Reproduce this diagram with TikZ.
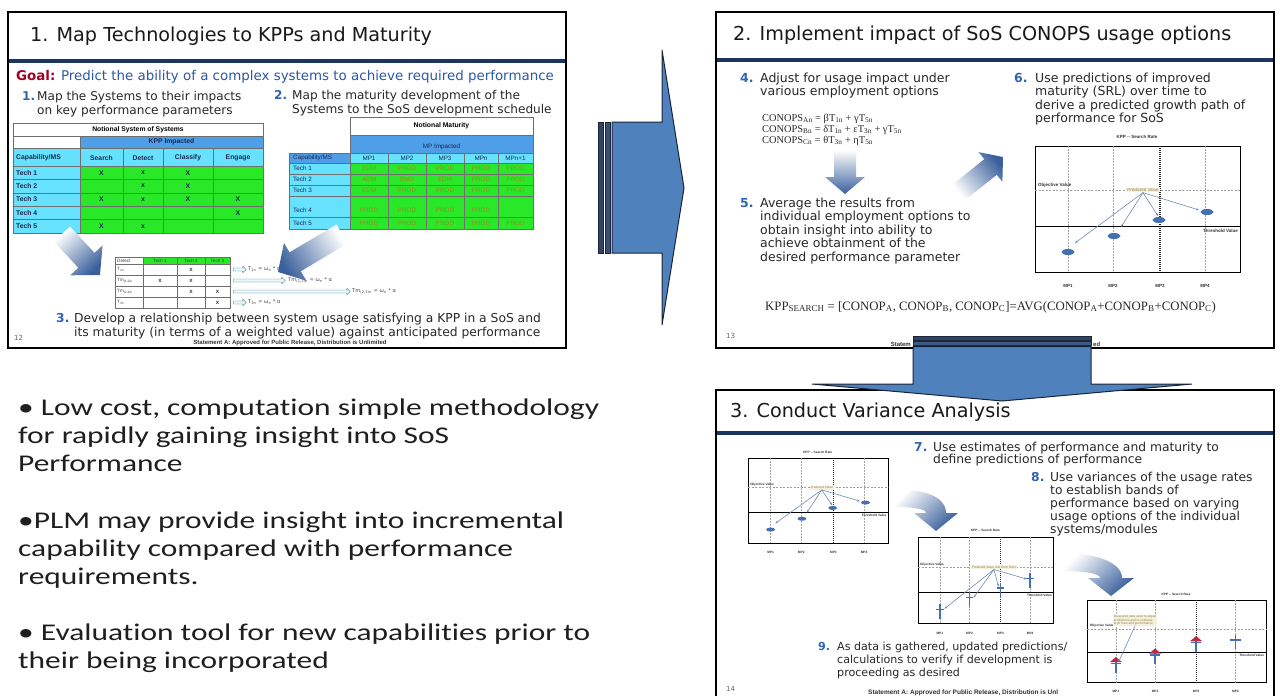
\documentclass[tikz,border=0pt]{standalone}
\usepackage{fontspec}
\setmainfont{DejaVu Sans}
\newfontfamily\bulf[FakeStretch=1.31,Ligatures=NoCommon]{Carlito}
\newfontfamily\tmsf{Liberation Serif}
\newfontfamily\arf{Liberation Sans}
\usetikzlibrary{shapes.arrows,arrows.meta}
\newcommand{\fsz}[1]{\fontsize{#1}{#1}\selectfont}
\definecolor{navy}{RGB}{28,52,98}
\definecolor{numblue}{RGB}{46,100,178}
\definecolor{goalred}{RGB}{158,0,40}
\definecolor{goalblue}{RGB}{44,88,168}
\definecolor{txt}{RGB}{40,40,40}
\definecolor{arrowblue}{RGB}{79,129,189}
\definecolor{arrowedge}{RGB}{28,36,56}
\definecolor{stripe}{RGB}{50,66,98}
\definecolor{tgreen}{RGB}{40,232,40}
\definecolor{tcyan}{RGB}{102,226,255}
\definecolor{tblue}{RGB}{78,158,232}
\definecolor{tdark}{RGB}{28,40,80}
\definecolor{tdata}{RGB}{150,140,30}
\definecolor{gridc}{RGB}{110,110,110}
\definecolor{gradblue}{RGB}{58,96,156}
\definecolor{dotblue}{RGB}{66,112,176}
\definecolor{beige}{RGB}{244,240,222}
\definecolor{predtxt}{RGB}{150,130,80}
\definecolor{lineblue}{RGB}{110,140,180}
\definecolor{errred}{RGB}{190,40,70}
\newcommand{\emp}{}
\newcommand{\tmA}{Tm\textsubscript{(1,2)n}}
\newcommand{\tmB}{Tm\textsubscript{(2,3)n}}
\newcommand{\para}[6]{\foreach \pline [count=\pk from 0] in {#6} {\node[#2] (#1-\pk) at (#3,{#4+\pk*#5}) {\pline};}}
\newcommand{\bx}[5]{\filldraw[fill=#5, draw=gridc, line width=0.5] (#1,#2) rectangle (#3,#4);}
\newcommand{\fatarrow}[7]{%
 \pgfmathsetmacro{\fdx}{#3-#1}\pgfmathsetmacro{\fdy}{#4-#2}%
 \pgfmathsetmacro{\fL}{veclen(\fdx,\fdy)}%
 \pgfmathsetmacro{\fux}{\fdx/\fL}\pgfmathsetmacro{\fuy}{\fdy/\fL}%
 \pgfmathsetmacro{\fang}{atan2(\fdy,-\fdx)-90}%
 \pgfmathsetmacro{\fbx}{#3-#7*\fux}\pgfmathsetmacro{\fby}{#4-#7*\fuy}%
 \shade[top color=white, bottom color=gradblue, shading angle=\fang]
  ({#1+#5*\fuy},{#2-#5*\fux}) -- ({\fbx+#5*\fuy},{\fby-#5*\fux}) -- ({\fbx+#6*\fuy},{\fby-#6*\fux}) -- (#3,#4) -- ({\fbx-#6*\fuy},{\fby+#6*\fux}) -- ({\fbx-#5*\fuy},{\fby+#5*\fux}) -- ({#1-#5*\fuy},{#2+#5*\fux}) -- cycle;}
\newcommand{\chartbase}[4]{%
 \filldraw[fill=white, draw=black, line width=0.9] (0,0) rectangle (205,126);
 \foreach \gx in {33,78,170} {\draw[gray!70, dash pattern=on 1.5pt off 1.5pt, line width=0.4] (\gx,0) -- (\gx,126);}
 \draw[black!85, dash pattern=on 1pt off 1pt, line width=1.1] (125,0) -- (125,126);
 \draw[gray!75, dash pattern=on 2pt off 1.5pt, line width=0.5] (0,44) -- (205,44);
 \draw[black, line width=0.7] (0,80) -- (205,80);
 \node[chtxt={#1}] (#3-t) at (102,-9) {KPP -- Search Rate};
 \node[chtxt={#1}, anchor=south west] (#3-o) at (3,42) {Objective Value};
 \node[chtxt={#1}, anchor=north east] (#3-th) at (203,83) {Threshold Value};
 \node[font=\arf\fsz{#1}, fill=beige, text=predtxt, inner sep=0.8, align=left] (#3-p) at (#4) {#2};
 \foreach \gx/\gl in {33/MP1,78/MP2,125/MP3,170/MP4} {\node[chtxt={#1}] (#3-\gl) at (\gx,140) {\gl};}
}
\newcommand{\ebar}[3]{%
 \draw[dotblue, line width=1.5] (#1,{#2-11}) -- (#1,{#2+11});
 \draw[dotblue, line width=1.5] ({#1-6},{#2-3}) -- ({#1+6},{#2-3});
 \ifx#3r\fill[errred] ({#1-7},{#2-5}) -- ({#1+7},{#2-5}) -- (#1,{#2-13}) -- cycle;\fi}
\begin{document}
\begin{tikzpicture}[x=1pt,y=-1pt,
  panelbox/.style={draw=black, line width=1.1, fill=white},
  navyline/.style={draw=navy, line width=3.5},
  ttl/.style={font=\fsz{19.2}, text=black!90, anchor=base west, inner sep=0},
  num/.style={font=\fsz{12.1}\bfseries, text=numblue, anchor=base west, inner sep=0},
  body/.style={font=\fsz{12.1}, text=txt, anchor=base west, inner sep=0},
  body2/.style={font=\fsz{12.5}, text=txt, anchor=base west, inner sep=0},
  num2/.style={font=\fsz{12.5}\bfseries, text=numblue, anchor=base west, inner sep=0},
  body3/.style={font=\fsz{12.3}, text=txt, anchor=base west, inner sep=0},
  num3/.style={font=\fsz{12.3}\bfseries, text=numblue, anchor=base west, inner sep=0},
  body9/.style={font=\fsz{11.1}, text=txt, anchor=base west, inner sep=0},
  num9/.style={font=\fsz{11.1}\bfseries, text=numblue, anchor=base west, inner sep=0},
  eqst/.style={font=\tmsf\fsz{10.4}, text=txt, anchor=base west, inner sep=0},
  bul/.style={font=\bulf\fsz{24}, text=black!88, anchor=base west, inner sep=0},
  tb7/.style={font=\arf\fsz{6.8}\bfseries, text=tdark, inner sep=0},
  tb6/.style={font=\arf\fsz{6.3}, text=tdark, inner sep=0},
  td6/.style={font=\arf\fsz{6.3}, text=tdata, inner sep=0},
  ts/.style={font=\arf\fsz{4.6}, text=black!75, inner sep=0},
  fsm/.style={font=\fsz{5.2}, text=black!70, inner sep=0, anchor=west},
  small/.style={font=\fsz{7}, text=black!60, anchor=base west, inner sep=0},
  stmt/.style={font=\arf\fsz{6}\bfseries, text=black!80, inner sep=0},
  chtxt/.style={font=\arf\fsz{#1}\bfseries, text=black!80, inner sep=0},
  smarr/.style={single arrow, draw=teal!50!gray, fill=cyan!8, line width=0.4, inner sep=1.3, minimum width=0pt, single arrow head extend=1.8, single arrow head indent=0pt},
  conn/.style={draw=lineblue, line width=0.6, -{Stealth[length=3pt,width=2.2pt]}}
]
\useasboundingbox (0,0) rectangle (1280,696);
\fill[white] (0,0) rectangle (1280,696);

%================ PANEL 1 ================
\draw[panelbox] (8,12) rectangle (566,348);
\node[ttl] (t1) at (30,41) {1. Map Technologies to KPPs and Maturity};
\draw[navyline] (9,61) -- (565,61);
\node[font=\fsz{13.4}, text=goalblue, anchor=base west, inner sep=0] (goal) at (16,80) {\textcolor{goalred}{\bfseries Goal:} Predict the ability of a complex systems to achieve required performance};
\node[num] (n1) at (22,100) {1.};
\para{i1}{body}{37}{100}{14}{{Map the Systems to their impacts},{on key performance parameters}}
\node[num] (n2) at (274,99) {2.};
\para{i2}{body}{292}{99}{14}{{Map the maturity development of the},{Systems to the SoS development schedule}}

% table 1
\bx{13}{123}{263}{136}{white}
\node[tb7, text=black] (ta-ttl) at (138,129.5) {Notional System of Systems};
\bx{13}{136}{80}{148}{white}
\bx{80}{136}{263}{148}{tblue}
\node[tb7] (ta-kpp) at (171.5,142) {KPP Impacted};
\bx{13}{148}{80}{166}{tcyan}
\node[tb7, anchor=west] (ta-cap) at (16,158) {Capability/MS};
\foreach \xa/\xb/\lab [count=\k] in {80/123/Search,123/163/Detect,163/213/Classify,213/263/Engage}{
  \bx{\xa}{148}{\xb}{166}{tcyan}
  \node[tb7] (ta-h\k) at ({(\xa+\xb)/2},158) {\lab};}
\foreach \a/\b/\c/\d [count=\r] in {X/x/X/\emp,\emp/x/X/\emp,X/x/X/X,\emp/\emp/\emp/X,X/x/\emp/\emp}{
  \pgfmathsetmacro{\ya}{166+(\r-1)*13.4}
  \pgfmathsetmacro{\yb}{\ya+13.4}
  \pgfmathsetmacro{\ym}{\ya+6.7}
  \bx{13}{\ya}{80}{\yb}{tcyan}
  \node[tb7, anchor=west] (ta-l\r) at (16,\ym) {Tech \r};
  \bx{80}{\ya}{123}{\yb}{tgreen}\node[tb7] (ta-\r-1) at (101.5,\ym) {\a};
  \bx{123}{\ya}{163}{\yb}{tgreen}\node[tb7] (ta-\r-2) at (143,\ym) {\b};
  \bx{163}{\ya}{213}{\yb}{tgreen}\node[tb7] (ta-\r-3) at (188,\ym) {\c};
  \bx{213}{\ya}{263}{\yb}{tgreen}\node[tb7] (ta-\r-4) at (238,\ym) {\d};
}

% table 2
\bx{350}{117}{533}{135}{white}
\node[tb7, text=black] (tb-ttl) at (441.5,126) {Notional Maturity};
\bx{350}{135}{533}{153}{tblue}
\node[tb6] (tb-mp) at (441.5,147) {MP Impacted};
\bx{289}{153}{350}{163}{tblue}
\node[tb6, anchor=west] (tb-cap) at (293,158) {Capability/MS};
\foreach \xa/\xb/\lab [count=\k] in {350/388/MP1,388/426/MP2,426/464/MP3,464/498/MPn,498/533/MPn+1}{
  \bx{\xa}{153}{\xb}{163}{tcyan}
  \node[tb6] (tb-h\k) at ({(\xa+\xb)/2},158) {\lab};}
\foreach \r/\ya/\yb/\ym/\a/\b/\c/\d/\e in {1/163/174/168.5/EDM/PROD/PROD/PROD/PROD,2/174/185/179.5/ADM/EMD/EDM/PROD/PROD,3/185/196/190.5/EDM/PROD/PROD/PROD/PROD,4/196/217/210/PROD/PROD/PROD/PROD/\emp,5/217/229/223/PROD/PROD/PROD/PROD/PROD}{
  \bx{289}{\ya}{350}{\yb}{tcyan}\node[tb6, anchor=west] (tb-l\r) at (293,\ym) {Tech \r};
  \bx{350}{\ya}{388}{\yb}{tgreen}\node[td6] (tb-\r-1) at (369,\ym) {\a};
  \bx{388}{\ya}{426}{\yb}{tgreen}\node[td6] (tb-\r-2) at (407,\ym) {\b};
  \bx{426}{\ya}{464}{\yb}{tgreen}\node[td6] (tb-\r-3) at (445,\ym) {\c};
  \bx{464}{\ya}{498}{\yb}{tgreen}\node[td6] (tb-\r-4) at (481,\ym) {\d};
  \bx{498}{\ya}{533}{\yb}{tgreen}\node[td6] (tb-\r-5) at (515.5,\ym) {\e};
}

% gradient arrows panel 1
\fatarrow{62}{234}{100}{275}{11}{22}{20}
\fatarrow{342}{234}{278}{272}{11}{22}{20}

% small table
\bx{115}{257}{143}{264}{white}
\node[ts, anchor=west] (tc-h0) at (117,260.5) {Detect};
\foreach \xa/\xb/\lab [count=\k] in {143/177/Tech 1,177/205/Tech 2,205/230/Tech 3}{
  \bx{\xa}{257}{\xb}{264}{tgreen}
  \node[ts] (tc-h\k) at ({(\xa+\xb)/2},260.5) {\lab};}
\foreach \lab/\ya/\yb/\a/\b/\c [count=\r] in {T\textsubscript{1n}/264/275/\emp/x/\emp,\tmA/275/286/x/x/\emp,\tmB/286/297/\emp/x/x,T\textsubscript{3n}/297/308/\emp/\emp/x}{
  \pgfmathsetmacro{\ym}{(\ya+\yb)/2}
  \bx{115}{\ya}{143}{\yb}{white}\node[ts, anchor=west] (tc-l\r) at (117,\ym) {\lab};
  \bx{143}{\ya}{177}{\yb}{white}\node[ts, font=\arf\fsz{6}\bfseries] (tc-\r-1) at (160,\ym) {\a};
  \bx{177}{\ya}{205}{\yb}{white}\node[ts, font=\arf\fsz{6}\bfseries] (tc-\r-2) at (191,\ym) {\b};
  \bx{205}{\ya}{230}{\yb}{white}\node[ts, font=\arf\fsz{6}\bfseries] (tc-\r-3) at (217.5,\ym) {\c};
}
\node[smarr, minimum height=13pt, anchor=west] (sa1) at (233,269.5) {};
\node[fsm] (fa1) at (248,269.5) {T\textsubscript{1n} = ω\textsubscript{n} * α};
\node[smarr, minimum height=52pt, anchor=west] (sa2) at (233,280.5) {};
\node[fsm] (fa2) at (288,280.5) {\tmA{} = ω\textsubscript{n} * α};
\node[smarr, minimum height=117pt, anchor=west] (sa3) at (233,291.5) {};
\node[fsm] (fa3) at (352,291.5) {\tmB{} = ω\textsubscript{n} * α};
\node[smarr, minimum height=13pt, anchor=west] (sa4) at (233,302.5) {};
\node[fsm] (fa4) at (248,302.5) {T\textsubscript{3n} = ω\textsubscript{n} * α};

\node[num, font=\fsz{12.3}\bfseries] (n3) at (56,322) {3.};
\para{i3}{body, font=\fsz{12.3}}{74}{322}{14}{{Develop a relationship between system usage satisfying a KPP in a SoS and},{its maturity (in terms of a weighted value) against anticipated performance}}
\node[small] (pg12) at (14,340) {12};
\node[stmt] (st1) at (290,343) {Statement A: Approved for Public Release, Distribution is Unlimited};

%================ PANEL 2 ================
\draw[panelbox] (716,12) rectangle (1274,348);
\node[ttl] (t2) at (733,40) {2. Implement impact of SoS CONOPS usage options};
\draw[navyline] (717,60) -- (1273,60);
\node[num2] (n4) at (740,82) {4.};
\para{i4}{body2}{760}{82}{13.5}{{Adjust for usage impact under},{various employment options}}
\para{eq}{eqst}{762}{121}{11}{{CONOPS\textsubscript{An} = βT\textsubscript{1n} + γT\textsubscript{5n}},{CONOPS\textsubscript{Bn} = δT\textsubscript{1n} + εT\textsubscript{3n} + γT\textsubscript{5n}},{CONOPS\textsubscript{Cn} = θT\textsubscript{3n} + ηT\textsubscript{5n}}}
\node[num2] (n5) at (740,207) {5.};
\para{i5}{body2}{760}{207}{13.5}{{Average the results from},{individual employment options to},{obtain insight into ability to},{achieve obtainment of the},{desired performance parameter}}
\node[num2] (n6) at (1014,82) {6.};
\para{i6}{body2}{1035}{82}{13.5}{{Use predictions of improved},{maturity (SRL) over time to},{derive a predicted growth path of},{performance for SoS}}
\fatarrow{845}{150}{845}{194}{11}{20}{17}
\fatarrow{958}{193}{1003}{157}{10}{19}{16}

\begin{scope}[shift={(1035,146)}]
  \chartbase{4.5}{Predicted Value}{c2}{108,44}
  \foreach \ex/\ey in {33/106,79/90,124/74,172/66} {\fill[dotblue] (\ex,\ey) ellipse (6.5 and 3);}
  \draw[conn] (c2-p.south) -- (40,97);
  \draw[conn] (c2-p.south) -- (86,81);
  \draw[conn] (c2-p.south) -- (123,70);
  \draw[conn] (c2-p.south) -- (164,64);
\end{scope}

\node[eqst, font=\tmsf\fsz{12.8}] (kpp) at (765,310) {KPP\textsubscript{SEARCH} = [CONOP\textsubscript{A}, CONOP\textsubscript{B}, CONOP\textsubscript{C}]=AVG(CONOP\textsubscript{A}+CONOP\textsubscript{B}+CONOP\textsubscript{C})};
\node[small] (pg13) at (726,338) {13};
\node[stmt, anchor=east] (st2a) at (911,344) {Statem};
\node[stmt, anchor=west] (st2b) at (1093,344) {ed};

%================ PANEL 3 ================
\draw[panelbox] (716,390) rectangle (1274,705);
\node[ttl] (t3) at (730,417) {3. Conduct Variance Analysis};
\draw[navyline] (717,433) -- (1273,433);
\node[num3] (n7) at (914,451) {7.};
\para{i7}{body3}{933}{451}{12.5}{{Use estimates of performance and maturity to},{define predictions of performance}}
\node[num3] (n8) at (1031,481) {8.};
\para{i8}{body3}{1050}{481}{13}{{Use variances of the usage rates},{to establish bands of},{performance based on varying},{usage options of the individual},{systems/modules}}
\node[num9] (n9) at (818,650) {9.};
\para{i9}{body9}{837}{650}{13}{{As data is gathered, updated predictions/},{calculations to verify if development is},{proceeding as desired}}
\node[small] (pg14) at (726,691) {14};
\node[stmt, font=\arf\fsz{6.5}\bfseries, anchor=base west] (st3) at (868,694) {Statement A: Approved for Public Release, Distribution is Unl};

% chart A
\begin{scope}[shift={(748,458)}, xscale=0.683, yscale=0.675]
  \chartbase{3.2}{Predicted Value}{ca}{108,44}
  \foreach \ex/\ey in {33/106,79/90,124/74,172/66} {\fill[dotblue] (\ex,\ey) ellipse (6.5 and 3);}
  \draw[conn] (ca-p.south) -- (40,97);
  \draw[conn] (ca-p.south) -- (86,81);
  \draw[conn] (ca-p.south) -- (123,70);
  \draw[conn] (ca-p.south) -- (164,64);
\end{scope}
% curved arrow 1
\shade[top color=white, bottom color=gradblue, shading angle=45] (893,489) .. controls (925,489) and (946,497) .. (946,513) -- (958,513) -- (936,531) -- (914,513) -- (926,513) .. controls (926,509) and (915,507) .. (893,507) -- cycle;

% chart B
\begin{scope}[shift={(918,537)}, xscale=0.66, yscale=0.69]
  \chartbase{3.2}{Predicted Value and Error Bars}{cb}{115,44}
  \ebar{33}{108}{b}
  \ebar{78}{91}{b}
  \ebar{125}{77}{b}
  \ebar{170}{63}{b}
  \draw[conn] (cb-p.south) -- (40,104);
  \draw[conn] (cb-p.south) -- (84,88);
  \draw[conn] (cb-p.south) -- (122,72);
  \draw[conn] (cb-p.south) -- (165,61);
\end{scope}
% curved arrow 2
\shade[top color=white, bottom color=gradblue, shading angle=45] (1062,553) .. controls (1095,553) and (1122,562) .. (1122,578) -- (1134,578) -- (1111,596) -- (1088,578) -- (1100,578) .. controls (1100,574) and (1088,571) .. (1062,571) -- cycle;

% chart C
\begin{scope}[shift={(1087,600)}, xscale=0.873, yscale=0.655]
  \chartbase{3.2}{Measured data used to adjust\\predictions and re-evaluate\\error bars and performance}{cc}{55,31}
  \ebar{33}{100}{r}
  \ebar{78}{87}{r}
  \ebar{125}{68}{r}
  \ebar{170}{64}{b}
  \draw[conn] (cc-p.south) -- (36,95);
\end{scope}

%================ BULLETS ================
\para{b1}{bul}{18}{415.5}{28}{{• Low cost, computation simple methodology},{for rapidly gaining insight into SoS},{Performance}}
\para{b2}{bul}{18}{528.5}{28}{{•PLM may provide insight into incremental},{capability compared with performance},{requirements.}}
\para{b3}{bul}{18}{640.5}{28}{{• Evaluation tool for new capabilities prior to},{their being incorporated}}

%================ BIG ARROWS ================
\filldraw[fill=stripe, draw=arrowedge, line width=0.6] (598,122) rectangle (603.5,253);
\filldraw[fill=stripe!80!arrowblue, draw=arrowedge, line width=0.6] (605.5,122) rectangle (610.5,253);
\filldraw[fill=arrowblue, draw=arrowedge, line width=1] (612,122) -- (662,122) -- (662,50) -- (684,188) -- (662,325) -- (662,253) -- (612,253) -- cycle;

\filldraw[fill=stripe, draw=arrowedge, line width=0.6] (913,336) rectangle (1091,340);
\filldraw[fill=stripe!60!arrowblue, draw=arrowedge, line width=0.6] (913,341.5) rectangle (1091,345);
\filldraw[fill=arrowblue, draw=arrowedge, line width=1] (913,346.5) -- (1091,346.5) -- (1091,384) -- (1192,384) -- (1002,401) -- (812,384) -- (913,384) -- cycle;
\end{tikzpicture}
\end{document}
